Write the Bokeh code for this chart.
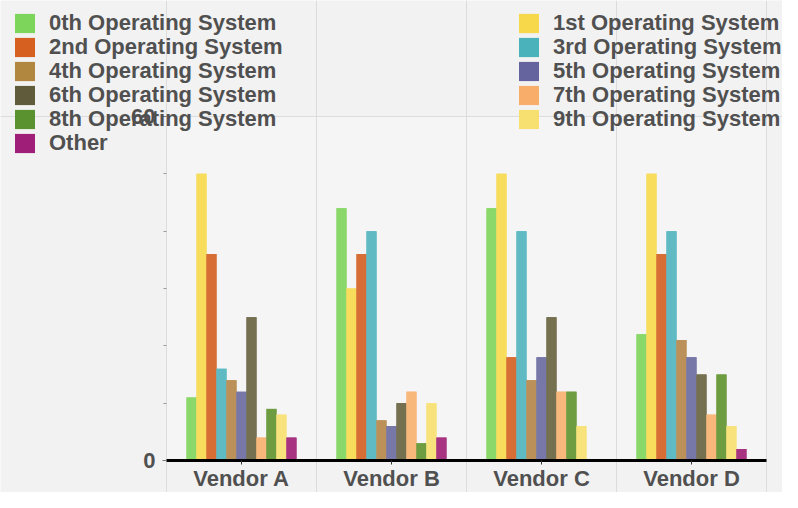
from bokeh.plotting import figure
from bokeh.models import ColumnDataSource, FixedTicker, Legend, LegendItem, BoxAnnotation
from bokeh.embed import file_html
from bokeh.resources import INLINE

vendors = ["Vendor A", "Vendor B", "Vendor C", "Vendor D"]
series_names = ["0th Operating System", "1st Operating System", "2nd Operating System",
                "3rd Operating System", "4th Operating System", "5th Operating System",
                "6th Operating System", "7th Operating System", "8th Operating System",
                "9th Operating System", "Other"]
bar_colors = ["#8ad86a", "#f8dc5c", "#d66e35", "#5fbac4", "#bb9159", "#7878a8",
              "#747050", "#f8b87c", "#6e9c40", "#f8e27c", "#a83380"]
swatch_colors = ["#7ed55c", "#f6d84a", "#d5601f", "#4ab2bb", "#b1873f", "#65649f",
                 "#5f5b3b", "#f8ae6a", "#5a922f", "#f7e070", "#9f1f78"]

os0 = [11, 44, 44, 22]
os1 = [50, 30, 50, 50]
os2 = [36, 36, 18, 36]
os3 = [16, 40, 40, 40]
os4 = [14, 7, 14, 21]
os5 = [12, 6, 18, 18]
os6 = [25, 10, 25, 15]
os7 = [4, 12, 12, 8]
os8 = [9, 3, 12, 15]
os9 = [8, 10, 6, 6]
other = [4, 4, 0, 2]
series_values = [os0, os1, os2, os3, os4, os5, os6, os7, os8, os9, other]
y_max = 60

# canvas / plot-area layout in pixels
W, H = 782, 492
X_LEFT, X_RIGHT = 166, 766     # plot area left/right
Y_TOP, Y_BOTTOM = 116, 460     # pixel rows of y_max and 0
ncat = len(vendors)
px_x = (X_RIGHT - X_LEFT) / ncat
px_y = (Y_BOTTOM - Y_TOP) / y_max

p = figure(width=W, height=H, output_backend="svg", toolbar_location=None, title=None,
           x_range=(-X_LEFT / px_x, ncat + (W - X_RIGHT) / px_x),
           y_range=(-(H - Y_BOTTOM) / px_y, y_max + Y_TOP / px_y),
           min_border=0, min_border_left=0, min_border_right=0,
           min_border_top=0, min_border_bottom=0)
p.background_fill_color = "#f2f2f2"
p.border_fill_color = "#f2f2f2"
p.outline_line_color = None

area = BoxAnnotation(left=0, right=ncat, bottom=0, top=y_max, fill_color="#f5f5f5",
                     fill_alpha=1, line_color=None, level="image")
p.add_layout(area)

n = len(series_names)
group_frac = 0.733
bw = group_frac / n
legend_renderers = []
for i, (name, vals) in enumerate(zip(series_names, series_values)):
    off = (i - (n - 1) / 2) * bw
    xs = [k + 0.5 + off for k in range(ncat)]
    src = ColumnDataSource(dict(x=xs, top=vals))
    # saturated copy (used for the legend swatch), covered by the bar itself
    lr = p.vbar(x="x", top="top", bottom=0, width=bw, source=src,
                fill_color=swatch_colors[i], line_color=None)
    legend_renderers.append(lr)
    p.vbar(x="x", top="top", bottom=0, width=bw, source=src,
           fill_color=bar_colors[i], line_color=None)

# x axis
xa = p.xaxis[0]
xa.fixed_location = 0
xa.bounds = (0, ncat)
xa.ticker = FixedTicker(ticks=[k + 0.5 for k in range(ncat)])
xa.major_label_overrides = {k + 0.5: v for k, v in enumerate(vendors)}
xa.axis_line_color = "black"
xa.axis_line_width = 3
xa.major_tick_line_color = "#333333"
xa.major_tick_in = 0
xa.major_tick_out = 4
xa.minor_tick_line_color = None
xa.major_label_text_font = "Liberation Sans"
xa.major_label_text_font_style = "bold"
xa.major_label_text_font_size = "22px"
xa.major_label_text_color = "#505050"
xa.major_label_standoff = 1

# y axis
ya = p.yaxis[0]
ya.fixed_location = 0
ya.bounds = (0, y_max)
ya.ticker = FixedTicker(ticks=[0, y_max], minor_ticks=[10, 20, 30, 40, 50])
ya.axis_line_color = None
ya.major_tick_line_color = "#777777"
ya.major_tick_in = 0
ya.major_tick_out = 4
ya.minor_tick_line_color = "#999999"
ya.minor_tick_in = 0
ya.minor_tick_out = 3
ya.major_label_text_font = "Liberation Sans"
ya.major_label_text_font_style = "bold"
ya.major_label_text_font_size = "22px"
ya.major_label_text_color = "#505050"
ya.major_label_standoff = 7

p.xgrid.ticker = FixedTicker(ticks=list(range(ncat + 1)))
p.xgrid.bounds = (0, y_max)
p.xgrid.grid_line_color = "#dcdcdc"
p.ygrid.ticker = FixedTicker(ticks=[y_max])
p.ygrid.bounds = (0, ncat)
p.ygrid.grid_line_color = "#dcdcdc"

# legend: two columns, filled row by row, one Legend per entry so rows are 24px apart
ROW, ITEM_H = 24, 26
FIRST_CENTER = 23
COL_LEFT = [12, 516]
for i in range(n):
    row, col = divmod(i, 2)
    top = FIRST_CENTER + ROW * row - ITEM_H / 2
    lg = Legend(items=[LegendItem(label=series_names[i], renderers=[legend_renderers[i]])],
                location=(COL_LEFT[col], H - top - ITEM_H), orientation="vertical")
    lg.label_text_font = "Liberation Sans"
    lg.label_text_font_style = "bold"
    lg.label_text_font_size = "22px"
    lg.label_text_color = "#505050"
    lg.glyph_width = 25
    lg.glyph_height = 24
    lg.label_height = 24
    lg.spacing = 0
    lg.label_standoff = 12
    lg.padding = 0
    lg.margin = 0
    lg.background_fill_alpha = 0
    lg.border_line_alpha = 0
    p.add_layout(lg)

open("out.html", "w").write(file_html(p, INLINE))
